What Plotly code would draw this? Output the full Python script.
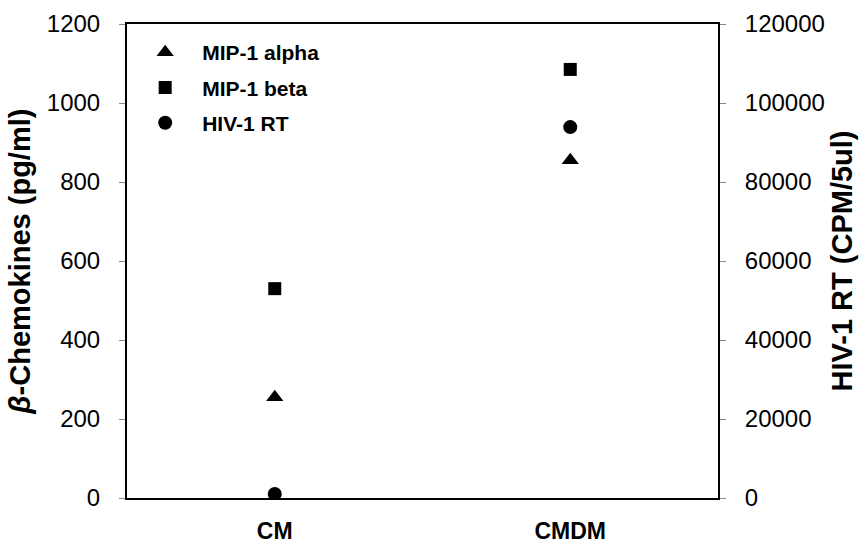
import plotly.graph_objects as go

categories = ["CM", "CMDM"]
mip1_alpha = [255, 855]
mip1_beta = [530, 1085]
hiv1_rt = [1000, 93900]

left_ticks = [0, 200, 400, 600, 800, 1000, 1200]
right_ticks = [0, 20000, 40000, 60000, 80000, 100000, 120000]

font_family = "Liberation Sans, Arial, sans-serif"

fig = go.Figure()
fig.add_trace(go.Scatter(x=categories, y=mip1_alpha, mode="markers", name="<b>MIP-1 alpha</b>",
                         legendgroup="a",
                         marker=dict(symbol="triangle-up", size=15, color="black")))
fig.add_trace(go.Scatter(x=categories, y=mip1_beta, mode="markers", name="<b>MIP-1 beta</b>",
                         legendgroup="b",
                         marker=dict(symbol="square", size=13, color="black")))
fig.add_trace(go.Scatter(x=categories, y=hiv1_rt, mode="markers", name="<b>HIV-1 RT</b>",
                         legendgroup="c", yaxis="y2",
                         marker=dict(symbol="circle", size=14, color="black")))

fig.update_layout(
    width=861, height=548,
    margin=dict(l=127, r=143, t=24, b=50, autoexpand=False),
    plot_bgcolor="white", paper_bgcolor="white",
    font=dict(family=font_family, color="black", size=18),
    showlegend=True,
    legend=dict(x=0.002, y=0.983, xanchor="left", yanchor="top",
                bgcolor="rgba(0,0,0,0)", font=dict(size=21, family=font_family),
                tracegroupgap=5, traceorder="grouped", itemwidth=64),
    xaxis=dict(type="category", range=[-0.5, 1.5], showline=True, linecolor="black",
               linewidth=2, mirror=True, ticks="", showgrid=False, zeroline=False,
               automargin=False,
               tickvals=categories, ticktext=["<b>" + c + "</b>" for c in categories],
               tickfont=dict(size=23), ticklabelstandoff=11),
    yaxis=dict(range=[0, 1200], tickvals=left_ticks, showline=True, linecolor="black",
               linewidth=2, ticks="outside", ticklen=6, tickcolor="#888", showgrid=False,
               zeroline=False, tickfont=dict(size=24), ticklabelstandoff=14, automargin=False,
               title=dict(text="<b><i>β</i>-Chemokines (pg/ml)</b>", font=dict(size=29), standoff=8)),
    yaxis2=dict(range=[0, 120000], tickvals=right_ticks, ticktext=[str(v) for v in right_ticks],
                overlaying="y", side="right", automargin=False,
                showline=True, linecolor="black", linewidth=2, ticks="outside", ticklen=6,
                tickcolor="#888", showgrid=False, zeroline=False, tickfont=dict(size=24),
                ticklabelstandoff=14,
                title=dict(text="<b>HIV-1 RT (CPM/5ul)</b>", font=dict(size=29), standoff=8)),
)

fig.write_html("out.html")
